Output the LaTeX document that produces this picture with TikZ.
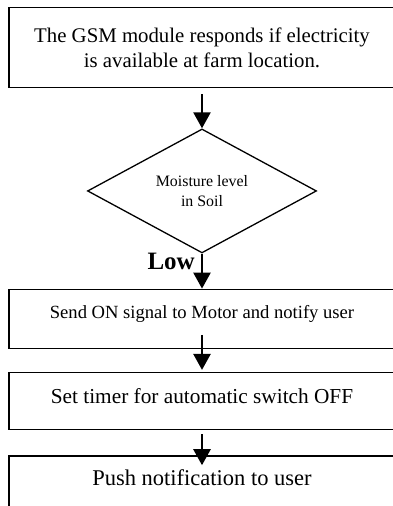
\documentclass[tikz,border=0pt]{standalone}
\usepackage{fontspec}
\setmainfont{Liberation Serif}
\usetikzlibrary{arrows.meta, positioning, shapes.geometric}

\begin{document}
\begin{tikzpicture}[
  x=1pt, y=1pt,
  box/.style={rectangle, draw, line width=1.3pt, minimum width=386pt, inner sep=0pt},
  decision/.style={diamond, draw, line width=1.3pt, aspect=1.85, minimum width=229pt,
              minimum height=124pt, inner sep=0pt, align=center, font=\fontsize{15.9}{20}\selectfont},
  arrow/.style={-{Triangle[length=16pt, width=17pt]}, line width=2.5pt},
  lowlbl/.style={font=\fontsize{25}{30}\selectfont\bfseries, inner sep=0pt}
]
\useasboundingbox (0,0) rectangle (393,-506);
\node[box, anchor=north, minimum height=80pt, align=center, font=\fontsize{20.8}{25}\selectfont] (gsm) at (202,-7)
  {The GSM module responds if electricity\\is available at farm location.};
\node[decision, below=40pt of gsm] (moist) {Moisture level\\in Soil};
\node[box, below=35pt of moist, text height=29pt, text depth=30pt, font=\fontsize{18.6}{22}\selectfont] (send)
  {Send ON signal to Motor and notify user};
\node[box, below=23pt of send, text height=31pt, text depth=26pt, font=\fontsize{21.3}{25}\selectfont] (timer)
  {Set timer for automatic switch OFF};
\node[box, below=25pt of timer, text height=30pt, text depth=60pt, font=\fontsize{22.5}{27}\selectfont] (push)
  {Push notification to user};

\draw[arrow, shorten <=6pt] (gsm)--(moist);
\draw[arrow] (moist)-- node[lowlbl, pos=0.22, left=6pt] {Low} (send);
\draw[arrow, shorten <=-14pt, shorten >=2pt] (send)--(timer);
\draw[arrow, shorten <=4pt, shorten >=-10pt] (timer)--(push);
\end{tikzpicture}
\end{document}
